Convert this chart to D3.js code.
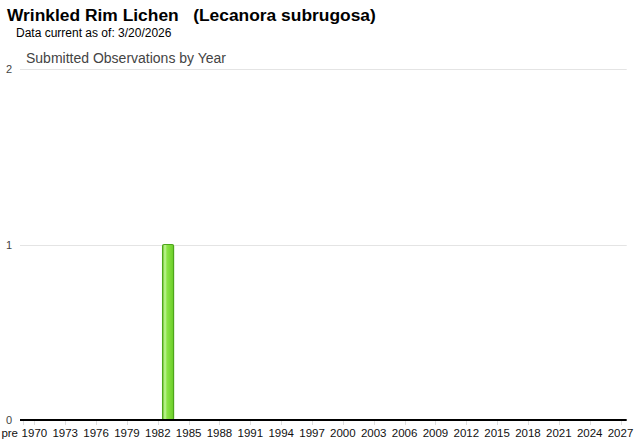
<!DOCTYPE html>
<html><head><meta charset="utf-8">
<script src="https://cdn.jsdelivr.net/npm/d3@7"></script>
<style>
body{margin:0;background:#fff;}
svg{display:block;font-family:"Liberation Sans",Arial,sans-serif;}
</style></head>
<body><svg id="c" width="640" height="442"></svg>
<script>
const title = "Wrinkled Rim Lichen   (Lecanora subrugosa)";
const subtitle = "Data current as of: 3/20/2026";
const chartTitle = "Submitted Observations by Year";
const years = [1983];
const counts = [1];
const tickYears = [1970,1973,1976,1979,1982,1985,1988,1991,1994,1997,2000,2003,2006,2009,2012,2015,2018,2021,2024,2027];
const tickLabels = tickYears.map(String);
const preLabel = "pre";
const preYear = 1968.9;
const yTicks = [0,1,2];

const svg = d3.select("#c");
const x = d3.scaleLinear().domain([1968.6, 2027.6]).range([20, 626.7]);
const y = d3.scaleLinear().domain([0, 2]).range([420, 69]);

svg.append("text").attr("x",7).attr("y",21).attr("font-size",17.4).attr("font-weight","bold").attr("fill","#000").style("white-space","pre").text(title);
svg.append("text").attr("x",16).attr("y",37).attr("font-size",12).attr("fill","#000").text(subtitle);
svg.append("text").attr("x",26).attr("y",63).attr("font-size",14).attr("fill","#444").text(chartTitle);

// gridlines
svg.append("g").selectAll("line").data(yTicks.filter(d=>d>0)).join("line")
  .attr("x1",20).attr("x2",626.7).attr("y1",d=>Math.round(y(d))+0.5).attr("y2",d=>Math.round(y(d))+0.5)
  .attr("stroke","#e4e4e4").attr("stroke-width",1);
// y labels
svg.append("g").selectAll("text").data(yTicks).join("text")
  .attr("x",9).attr("y",d=>y(d)+4).attr("text-anchor","middle").attr("font-size",11).attr("fill","#444").text(d=>d);

// x ticks
const allTicks = [preYear].concat(tickYears);
svg.append("g").selectAll("line").data(allTicks).join("line")
  .attr("x1",d=>Math.round(x(d))+0.5).attr("x2",d=>Math.round(x(d))+0.5).attr("y1",421).attr("y2",425)
  .attr("stroke","#ddd");
svg.append("g").selectAll("text").data(tickYears).join("text")
  .attr("x",d=>x(d)).attr("y",437).attr("text-anchor","middle").attr("font-size",11.5).attr("fill","#111").text((d,i)=>tickLabels[i]);
svg.append("text").attr("x",x(1967.6)).attr("y",437).attr("text-anchor","middle").attr("font-size",11.5).attr("fill","#111").text(preLabel);

// gradient
const defs = svg.append("defs");
const g = defs.append("linearGradient").attr("id","bg").attr("x1","0").attr("x2","1").attr("y1","0").attr("y2","0");
g.append("stop").attr("offset","0%").attr("stop-color","#72d02c");
g.append("stop").attr("offset","22%").attr("stop-color","#c2f59a");
g.append("stop").attr("offset","40%").attr("stop-color","#8ae444");
g.append("stop").attr("offset","100%").attr("stop-color","#6ccd2a");

const bw = 11;
svg.append("g").selectAll("rect").data(years).join("rect")
  .attr("x",d=>x(d)-bw/2).attr("y",(d,i)=>y(counts[i])).attr("width",bw).attr("height",(d,i)=>y(0)-y(counts[i]))
  .attr("rx",1.5).attr("fill","url(#bg)").attr("stroke","#4ea51c").attr("stroke-width",1.2);

// baseline
svg.append("line").attr("x1",20).attr("x2",626.7).attr("y1",420).attr("y2",420).attr("stroke","#000").attr("stroke-width",2);
</script></body></html>
